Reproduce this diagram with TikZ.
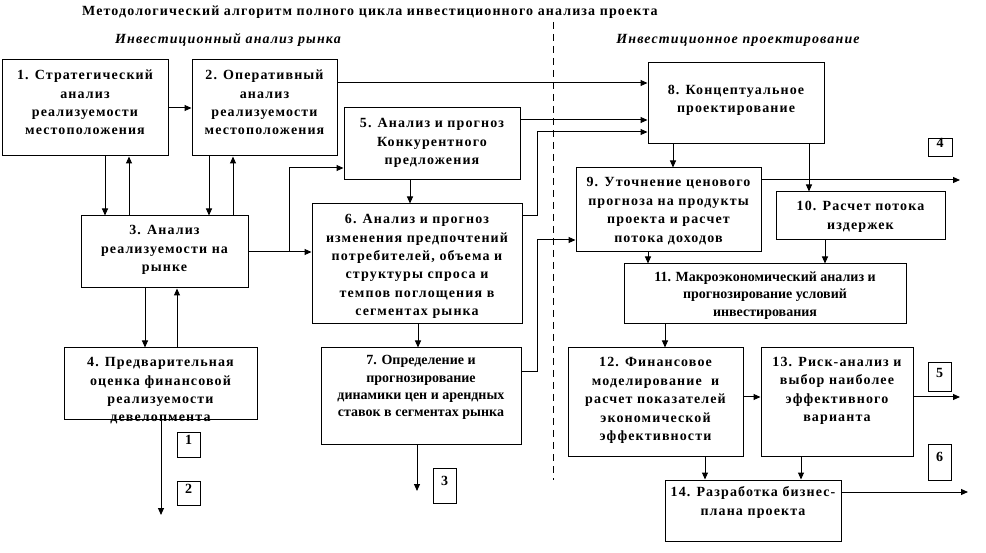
\documentclass[tikz,border=0pt]{standalone}
\usepackage{fontspec}
\setmainfont{Liberation Serif}
\newfontfamily\sps{Liberation Serif}[LetterSpace=8]
\newfontfamily\cnd{Liberation Serif}
\usetikzlibrary{arrows.meta,fit}
\newcommand\mkbox[5]{\coordinate (#1a) at (#2,#3); \coordinate (#1b) at (#4,#5); \node[box,fit=(#1a)(#1b)] (#1) {};}
\newcommand\mknum[6]{\coordinate (#1a) at (#2,#3); \coordinate (#1b) at (#4,#5); \node[box,fit=(#1a)(#1b),font=\bfseries\fontsize{14}{16}\selectfont] (#1) {#6};}
\begin{document}
\begin{tikzpicture}[x=1pt,y=-1pt,
  box/.style={draw,line width=1pt,inner sep=0pt},
  txt/.style={font=\sps\bfseries\fontsize{14}{18.4}\selectfont,align=center,inner sep=0pt},
  ctxt/.style={font=\cnd\bfseries\fontsize{14}{17.2}\selectfont,align=center,inner sep=0pt},
  arr/.style={line width=1pt,-{Triangle[length=7pt,width=6pt]}},
  ln/.style={line width=1pt}]
\useasboundingbox (0,0) rectangle (986,553);
\fill[white] (0,0) rectangle (986,553);
% titles
\node[font=\sps\bfseries\fontsize{14}{16}\selectfont,inner sep=0pt] (title) at (370,12) {Методологический алгоритм полного цикла инвестиционного анализа проекта};
\node[font=\sps\bfseries\itshape\fontsize{14}{16}\selectfont,inner sep=0pt] (sub1) at (228,40) {Инвестиционный анализ рынка};
\node[font=\sps\bfseries\itshape\fontsize{14}{16}\selectfont,inner sep=0pt] (sub2) at (738,40) {Инвестиционное проектирование};
% dashed divider
\coordinate (dtop) at (553,22);
\coordinate (dbot) at (553,480);
\draw[ln,dash pattern=on 7pt off 5pt] (dtop) -- (dbot);
% boxes
\mkbox{b1}{2}{60}{168}{156}
\mkbox{b2}{192}{60}{337}{156}
\mkbox{b5}{344}{108}{520}{180}
\mkbox{b6}{312}{204}{522}{324}
\mkbox{b3}{81}{216}{248}{288}
\mkbox{b4}{64}{348}{257}{420}
\mkbox{b7}{321}{348}{521}{444}
\mkbox{b8}{648}{63}{824}{144}
\mkbox{b9}{576}{168}{761}{252}
\mkbox{b10}{776}{192}{945}{240}
\mkbox{b11}{624}{264}{906}{324}
\mkbox{b12}{568}{348}{743}{456}
\mkbox{b13}{761}{348}{913}{456}
\mkbox{b14}{665}{480}{841}{541}
\mknum{n1}{177}{433}{200}{457}{1}
\mknum{n2}{177}{481}{200}{505}{2}
\mknum{n3}{433}{468}{456}{503}{3}
\mknum{n4}{928}{139}{952}{157}{4}
\mknum{n5}{928}{363}{951}{392}{5}
\mknum{n6}{928}{444}{951}{480}{6}
% texts
\node[txt] (t1) at (85,102.5) {1. Стратегический\\анализ\\реализуемости\\местоположения};
\node[txt] (t2) at (264.5,102.5) {2. Оперативный\\анализ\\реализуемости\\местоположения};
\node[txt] (t3) at (164.5,250) {3. Анализ\\реализуемости на\\рынке};
\node[txt] (t4) at (160.5,391) {4. Предварительная\\оценка финансовой\\реализуемости\\девелопмента};
\node[txt] (t5) at (432,143) {5. Анализ и прогноз\\Конкурентного\\предложения};
\node[txt] (t6) at (417,266.5) {6. Анализ и прогноз\\изменения предпочтений\\потребителей, объема и\\структуры спроса и\\темпов поглощения в\\сегментах рынка};
\node[ctxt] (t7) at (421,387.5) {7. Определение и\\прогнозирование\\динамики цен и арендных\\ставок в сегментах рынка};
\node[txt] (t8) at (736,100.5) {8. Концептуальное\\проектирование};
\node[txt] (t9) at (668.5,211) {9. Уточнение ценового\\прогноза на продукты\\проекта и расчет\\потока доходов};
\node[txt] (t10) at (860.5,217) {10. Расчет потока\\издержек};
\node[ctxt] (t11) at (765,295.5) {11. Макроэкономический анализ и\\прогнозирование условий\\инвестирования};
\node[txt] (t12) at (655.5,400.5) {12. Финансовое\\моделирование\ \ и\\расчет показателей\\экономической\\эффективности};
\node[txt] (t13) at (837,391) {13. Риск-анализ и\\выбор наиболее\\эффективного\\варианта};
\node[txt] (t14) at (753,502.5) {14. Разработка бизнес-\\плана проекта};
% free ends
\coordinate (e4) at (161,515);
\coordinate (e7) at (417,491);
\coordinate (e9) at (960,180);
\coordinate (e13) at (960,397);
\coordinate (e14) at (968,492);
\coordinate (br) at (289,252);
% connectors
\draw[arr] (b1.east |- 0,108) -- (b2.west |- 0,108);
\draw[arr] (b2.east |- 0,83) -- (b8.west |- 0,83);
\draw[arr] (b5.east |- 0,120) -- (b8.west |- 0,120);
\draw[arr] (b6.east |- 0,216) -| (537,132) -- (b8.west |- 0,132);
\draw[arr] (b1.south -| 105,0) -- (b3.north -| 105,0);
\draw[arr] (b3.north -| 129,0) -- (b1.south -| 129,0);
\draw[arr] (b2.south -| 209,0) -- (b3.north -| 209,0);
\draw[arr] (b3.north -| 233,0) -- (b2.south -| 233,0);
\draw[arr] (b3.east |- 0,252) -- (b6.west |- 0,252);
\draw[arr] (br) |- (b5.west |- 0,168);
\draw[arr] (b3.south -| 145,0) -- (b4.north -| 145,0);
\draw[arr] (b4.north -| 177,0) -- (b3.south -| 177,0);
\draw[arr] (b4.south -| e4) -- (e4);
\draw[arr] (b5.south -| 410,0) -- (b6.north -| 410,0);
\draw[arr] (b6.south -| 418,0) -- (b7.north -| 418,0);
\draw[arr] (b7.south -| e7) -- (e7);
\draw[arr] (b7.east |- 0,372) -| (537,240) -- (b9.west |- 0,240);
\draw[arr] (b8.south -| 673,0) -- (b9.north -| 673,0);
\draw[arr] (b8.south -| 809,0) -- (b10.north -| 809,0);
\draw[arr] (b9.east |- e9) -- (e9);
\draw[arr] (b9.south -| 648,0) -- (b11.north -| 648,0);
\draw[arr] (b10.south -| 825,0) -- (b11.north -| 825,0);
\draw[arr] (b11.south -| 665,0) -- (b12.north -| 665,0);
\draw[arr] (b12.east |- 0,397) -- (b13.west |- 0,397);
\draw[arr] (b13.east |- e13) -- (e13);
\draw[arr] (b12.south -| 705,0) -- (b14.north -| 705,0);
\draw[arr] (b13.south -| 801,0) -- (b14.north -| 801,0);
\draw[arr] (b14.east |- e14) -- (e14);
\end{tikzpicture}
\end{document}
